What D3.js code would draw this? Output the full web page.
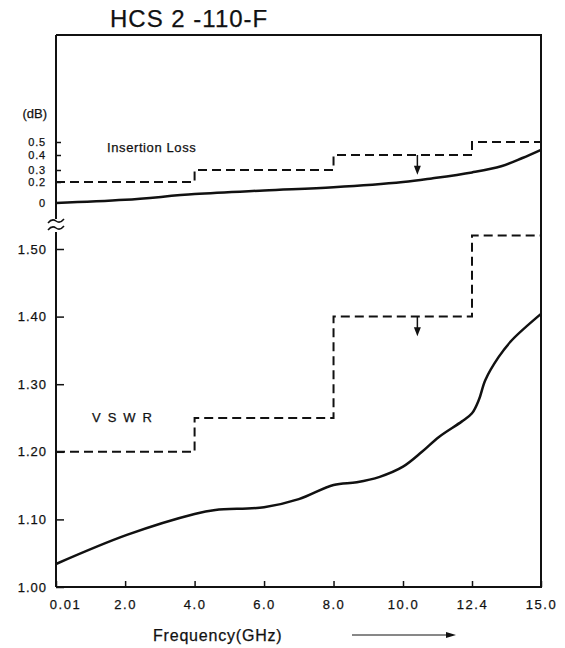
<!DOCTYPE html>
<meta charset="utf-8">
<html>
<head>
<script src="https://d3js.org/d3.v7.min.js"></script>
<style>
  body { margin: 0; background: #fff; }
  text { font-family: "Liberation Sans", Arial, sans-serif; fill: #111; stroke: #111; stroke-width: 0.25; }
</style>
</head>
<body>
<div id="viz"></div>
<script>
// ticks
const freqTicks = [0.01, 2, 4, 6, 8, 10, 12.4, 15];
const freqLabels = ["0.01", "2.0", "4.0", "6.0", "8.0", "10.0", "12.4", "15.0"];
const vswrTicks = [1.0, 1.1, 1.2, 1.3, 1.4, 1.5];
const vswrLabels = ["1.00", "1.10", "1.20", "1.30", "1.40", "1.50"];
const dbTicks = [0, 0.2, 0.3, 0.4, 0.5];
const dbLabels = ["0", "0.2", "0.3", "0.4", "0.5"];

// insertion loss (measured)
const ilFreq = [0.01, 2, 4, 6, 8, 10, 11, 12.4, 13.5, 14.3, 15];
const ilLoss = [0, 0.03, 0.085, 0.12, 0.15, 0.2, 0.23, 0.28, 0.325, 0.38, 0.44];
// insertion loss spec (steps)
const ilSpecFreq = [0.01, 4, 8, 12.4, 15];
const ilSpecVal = [0.2, 0.3, 0.4, 0.5, 0.5];

// vswr (measured)
const vswrFreq = [0.01, 2.05, 4.0, 4.6, 6.0, 7.0, 8.0, 8.67, 9.33, 10.0, 10.66, 11.25, 12.05, 12.4, 12.66, 12.9, 13.4, 13.9, 15];
const vswrVal = [1.034, 1.077, 1.108, 1.114, 1.118, 1.13, 1.151, 1.155, 1.163, 1.178, 1.20, 1.222, 1.245, 1.257, 1.277, 1.306, 1.34, 1.365, 1.404];
// vswr spec (steps)
const vswrSpecFreq = [0.01, 4, 8, 12.4, 15];
const vswrSpecVal = [1.2, 1.25, 1.4, 1.52, 1.52];

const w = 565, h = 648;
const m = {left: 56, right: 541, top: 35, bottom: 587};

const svg = d3.select("#viz").append("svg")
  .attr("width", w).attr("height", h);

// x is not linear on the original sheet: 12.4 and 15.0 get one division each
const x = d3.scaleLinear()
  .domain([0.01, 10, 12.4, 15])
  .range([m.left, 403, 472, m.right]);
const yV = d3.scaleLinear().domain([1.0, 1.5]).range([m.bottom, 249]);
const yDb = d3.scaleLinear()
  .domain([0, 0.2, 0.3, 0.4, 0.5])
  .range([203, 182, 170, 155, 142]);

// frame
svg.append("path")
  .attr("d", `M${m.left},${m.top}H${m.right}V${m.bottom}H${m.left}`)
  .attr("fill", "none").attr("stroke", "#111").attr("stroke-width", 2);
// left axis with break
svg.append("path")
  .attr("d", `M${m.left},${m.top}V219M${m.left},232V${m.bottom}`)
  .attr("fill", "none").attr("stroke", "#111").attr("stroke-width", 2);
// break mark
[221, 228].forEach(yy => {
  svg.append("path")
    .attr("d", `M${m.left - 8},${yy + 2}q4,-5 8,-2t8,-2`)
    .attr("fill", "none").attr("stroke", "#111").attr("stroke-width", 1.5);
});

// bottom axis
const xAxis = d3.axisBottom(x)
  .tickValues(freqTicks)
  .tickSize(-6)
  .tickPadding(13)
  .tickFormat((d, i) => freqLabels[i]);
const gx = svg.append("g").attr("transform", `translate(0,${m.bottom})`).call(xAxis);
gx.select(".domain").remove();
gx.selectAll("line").attr("stroke", "#111").attr("stroke-width", 1.5);
gx.selectAll("text")
  .attr("font-size", 13).attr("letter-spacing", 1.5)
  .attr("font-family", "Liberation Sans, Arial, sans-serif")
  .attr("dx", (d, i) => i === 0 ? 9 : 0);

// vswr axis
const vAxis = d3.axisLeft(yV)
  .tickValues(vswrTicks)
  .tickSize(-8)
  .tickPadding(9)
  .tickFormat((d, i) => vswrLabels[i]);
const gv = svg.append("g").attr("transform", `translate(${m.left},0)`).call(vAxis);
gv.select(".domain").remove();
gv.selectAll("line").attr("stroke", "#111").attr("stroke-width", 1.5);
gv.selectAll("text").attr("font-size", 13).attr("letter-spacing", 1)
  .attr("font-family", "Liberation Sans, Arial, sans-serif");

// dB axis
const dAxis = d3.axisLeft(yDb)
  .tickValues(dbTicks)
  .tickSize(-5)
  .tickPadding(10)
  .tickFormat((d, i) => dbLabels[i]);
const gd = svg.append("g").attr("transform", `translate(${m.left},0)`).call(dAxis);
gd.select(".domain").remove();
gd.selectAll("line").attr("stroke", "#111").attr("stroke-width", 1.5);
gd.selectAll("text").attr("font-size", 11).attr("letter-spacing", 0.8)
  .attr("font-family", "Liberation Sans, Arial, sans-serif");
gd.selectAll(".tick").filter(d => d === 0).select("line").remove();

svg.append("text").attr("x", 47).attr("y", 118).attr("text-anchor", "end")
  .attr("font-size", 13).text("(dB)");

// spec step lines
const stepIL = d3.line().curve(d3.curveStepAfter)
  .x(d => x(d[0])).y(d => yDb(d[1]));
svg.append("path")
  .attr("d", stepIL(d3.zip(ilSpecFreq, ilSpecVal)))
  .attr("fill", "none").attr("stroke", "#111").attr("stroke-width", 2)
  .attr("stroke-dasharray", "9,5");

const stepV = d3.line().curve(d3.curveStepAfter)
  .x(d => x(d[0])).y(d => yV(d[1]));
svg.append("path")
  .attr("d", stepV(d3.zip(vswrSpecFreq, vswrSpecVal)))
  .attr("fill", "none").attr("stroke", "#111").attr("stroke-width", 2)
  .attr("stroke-dasharray", "9,5");

// measured curves
const lineIL = d3.line().curve(d3.curveCatmullRom)
  .x(d => x(d[0])).y(d => yDb(d[1]));
svg.append("path")
  .attr("d", lineIL(d3.zip(ilFreq, ilLoss)))
  .attr("fill", "none").attr("stroke", "#111").attr("stroke-width", 2.5);

const lineV = d3.line().curve(d3.curveCatmullRom)
  .x(d => x(d[0])).y(d => yV(d[1]));
svg.append("path")
  .attr("d", lineV(d3.zip(vswrFreq, vswrVal)))
  .attr("fill", "none").attr("stroke", "#111").attr("stroke-width", 2.5);

// arrows under the spec
function downArrow(f, y0, y1) {
  const xx = x(f);
  svg.append("line").attr("x1", xx).attr("x2", xx).attr("y1", y0).attr("y2", y1 - 6)
    .attr("stroke", "#111").attr("stroke-width", 1.5);
  svg.append("path")
    .attr("d", `M${xx - 3.5},${y1 - 9}L${xx + 3.5},${y1 - 9}L${xx},${y1}Z`)
    .attr("fill", "#111");
}
downArrow(10.5, yDb(0.4), yDb(0.26));
downArrow(10.5, yV(1.4), yV(1.371));

// labels
svg.append("text").attr("x", 107).attr("y", 152).attr("font-size", 13)
  .attr("letter-spacing", 0.6).text("Insertion Loss");
svg.append("text").attr("x", 92).attr("y", 422).attr("font-size", 13)
  .attr("letter-spacing", 7).text("VSWR");

svg.append("text").attr("x", 110).attr("y", 27).attr("font-size", 24)
  .attr("letter-spacing", 1).text("HCS 2 -110-F");

svg.append("text").attr("x", 153).attr("y", 641).attr("font-size", 16)
  .attr("letter-spacing", 0.8).text("Frequency(GHz)");
svg.append("line").attr("x1", 352).attr("x2", 450).attr("y1", 635).attr("y2", 635)
  .attr("stroke", "#111").attr("stroke-width", 1);
svg.append("path").attr("d", "M446,632L456,635L446,638Z").attr("fill", "#111");
</script>
</body>
</html>
